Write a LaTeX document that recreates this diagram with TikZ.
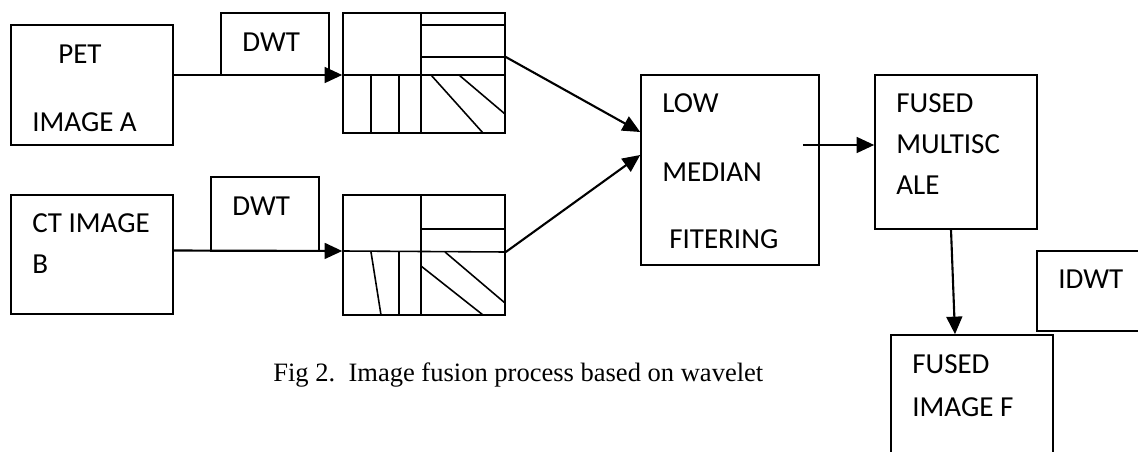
\documentclass[tikz,border=0pt]{standalone}
\usepackage{fontspec}
\setmainfont{Liberation Serif}
\newfontfamily\boxfont{Carlito}
\usetikzlibrary{arrows.meta, fit, calc}

\tikzset{
  box/.style={draw, line width=0.9pt, inner sep=0pt},
  lbl/.style={anchor=base west, inner sep=0pt, font=\boxfont\fontsize{16.5}{18}\selectfont},
  arr/.style={-{Triangle[length=10pt, width=9pt]}, line width=1.2pt},
  sub/.style={line width=0.9pt}
}

\begin{document}
\begin{tikzpicture}[x=0.02cm, y=-0.02cm]
%% 1 unit = 1 px of the 1138 x 452 frame, y grows downwards
\useasboundingbox (0,0) rectangle (1138,452);
\clip (0,0) rectangle (1138,452);

%% ---- Input images ----
\node[box, fit={(11,25) (173,145)}]  (pet) {};
\node[lbl] (petT) at (58,64)  {PET};
\node[lbl] (petI) at (32,132) {IMAGE A};

\node[box, fit={(11,195) (173,314)}] (ct) {};
\node[lbl] (ctT) at (32,233) {CT IMAGE};
\node[lbl] (ctB) at (32,274) {B};

%% ---- DWT tags (sitting on the arrows) ----
\node[box, fit={(221,13) (329,75)}]  (dwtA) {};
\node[lbl] (dwtAT) at (242,52) {DWT};
\node[box, fit={(211,177) (319,251)}] (dwtB) {};
\node[lbl] (dwtBT) at (232,216) {DWT};

%% ---- Decomposed sub-bands, top ----
\node[box, fit={(343,13) (505,133)}]  (gA) {};
\draw[sub] (421,13) -- (421,133);
\draw[sub] (343,75) -- (505,75);
\foreach \y in {25,57} \draw[sub] (421,\y) -- (505,\y);
\foreach \x in {371,399} \draw[sub] (\x,75) -- (\x,133);
\draw[sub] (431,75) -- (483,133);
\draw[sub] (459,75) -- (505,114);

%% ---- Decomposed sub-bands, bottom ----
\node[box, fit={(343,195) (505,315)}] (gB) {};
\draw[sub] (421,195) -- (421,315);
\draw[sub] (343,251) -- (505,252);
\draw[sub] (421,229) -- (505,229);
\draw[sub] (371,252) -- (381,315);
\draw[sub] (399,252) -- (399,315);
\draw[sub] (421,266) -- (483,315);
\draw[sub] (445,252) -- (505,303);

%% ---- Filtering / fusion / reconstruction ----
\node[box, fit={(641,75) (819,265)}]   (low) {};
\node[lbl] (lowA) at (662,113) {LOW};
\node[lbl] (lowB) at (662,182) {MEDIAN};
\node[lbl] (lowC) at (669,249) {FITERING};

\node[box, fit={(875,75) (1037,229)}]  (fms) {};
\node[lbl] (fmsA) at (896,113) {FUSED};
\node[lbl] (fmsB) at (896,154) {MULTISC};
\node[lbl] (fmsC) at (896,195) {ALE};

\node[box, fit={(1037,251) (1150,331)}] (idwt) {};
\node[lbl] (idwtT) at (1058,289) {IDWT};

\node[box, fit={(891,335) (1053,470)}]  (fim) {};
\node[lbl] (fimA) at (912,373) {FUSED};
\node[lbl] (fimB) at (912,416) {IMAGE F};

%% ---- Arrows ----
\draw[arr] ($(pet.east)+(0,-10)$) -- ($(gA.west)+(0,2)$);
\draw[arr] ($(ct.east)+(0,-4)$)  -- ($(gB.west)+(0,-4)$);
\draw[arr] ($(gA.east)+(0,-16)$) -- ($(low.west)+(0,-38)$);
\draw[arr] ($(gB.east)+(0,-3)$)  -- ($(low.west)+(0,-15)$);
\draw[arr] ($(low.east)+(-17,-25)$) -- ($(fms.west)+(0,-7)$);
\draw[arr] ($(fms.south)+(-5,0)$) -- ($(fim.north)+(-17,0)$);

%% ---- Caption ----
\node[anchor=base west, inner sep=0pt, font=\fontsize{15.1}{17}\selectfont] (cap) at (273,381)
  {Fig 2.\ \ Image fusion process based on wavelet};
\end{tikzpicture}
\end{document}
